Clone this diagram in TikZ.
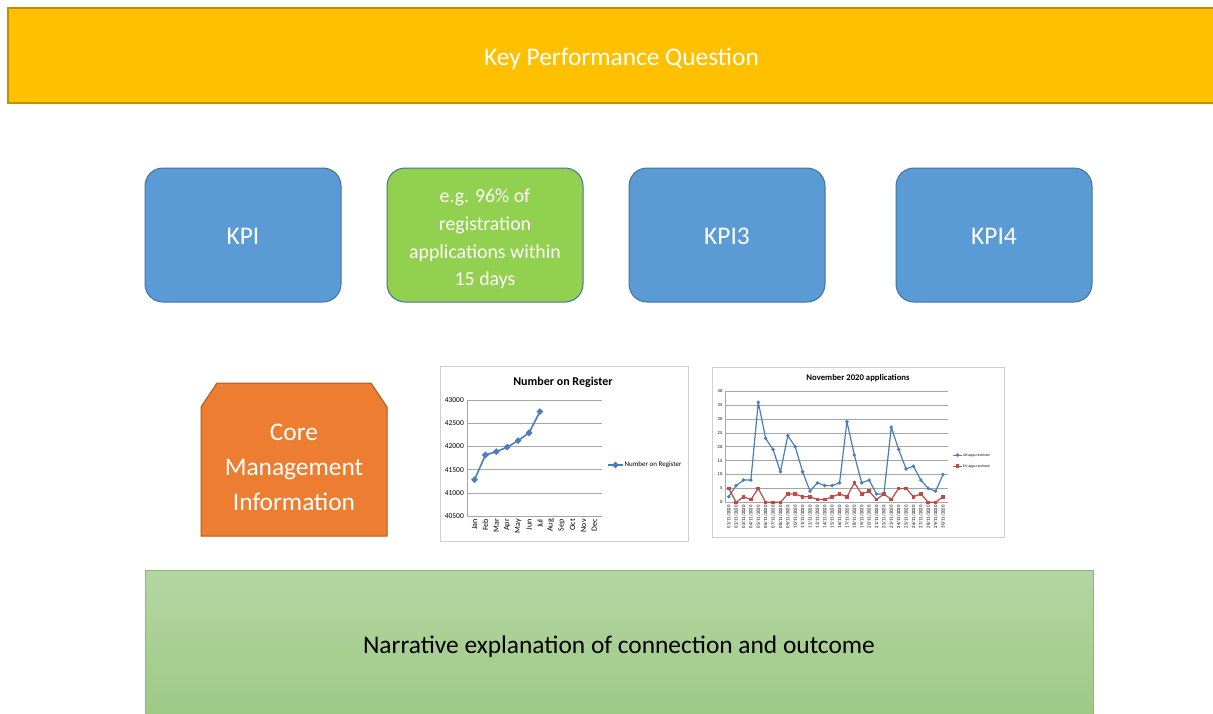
\documentclass[tikz,border=0pt]{standalone}
\usepackage{fontspec}
\setmainfont{Carlito}
\usetikzlibrary{shapes.geometric}
\definecolor{kpqgold}{HTML}{FFC000}
\definecolor{kpqedge}{HTML}{BF9000}
\definecolor{kpiblue}{HTML}{5B9BD5}
\definecolor{kpiedge}{HTML}{41719C}
\definecolor{kpigreen}{HTML}{92D050}
\definecolor{cmiorange}{HTML}{ED7D31}
\definecolor{cmiedge}{HTML}{AE5A21}
\definecolor{narrtop}{HTML}{B4D6A3}
\definecolor{narrbot}{HTML}{9DC985}
\definecolor{narredge}{HTML}{8CB877}
\definecolor{ukblue}{HTML}{4A7EBB}
\definecolor{eured}{HTML}{BE4B48}
\definecolor{gridgray}{HTML}{A6A6A6}
\definecolor{framegray}{HTML}{CFCFCF}
\tikzset{
	big/.style={font=\fontsize{25.4}{35}\selectfont},
	lowered/.style={text height=19.5pt, text depth=0pt},
	kpi/.style={draw=kpiedge, fill=kpiblue, line width=1pt, rounded corners=18pt, minimum width=196pt, minimum height=134pt, text=white, align=center, big},
	chart/.style={draw=framegray, fill=white, line width=0.8pt},
	gridline/.style={draw=gridgray, line width=0.5pt},
	ticklbl/.style={inner sep=0pt},
	regmark/.style={diamond, fill=ukblue, inner sep=0pt, minimum size=7pt},
	ukmark/.style={diamond, fill=ukblue, inner sep=0pt, minimum size=4pt},
	eumark/.style={rectangle, fill=eured, inner sep=0pt, minimum size=3.6pt}
}
\begin{document}
\begin{tikzpicture}[x=1pt,y=-1pt]
	\useasboundingbox (0,0) rectangle (1213,713);
	\node[draw=kpqedge, fill=kpqgold, line width=1.2pt, minimum width=1227pt, minimum height=95pt, text=white, big, lowered] (kpq) at (621.5,55.5) {Key Performance Question};
	\node[kpi, lowered] (kpi1) at (243,235) {KPI};
	\node[kpi, fill=kpigreen] (kpi2) at (485,235) {};
	\node[text=white, align=center, font=\fontsize{19.8}{27.7}\selectfont] (kpi2txt) at (485,239) {e.g. 96\% of\\registration\\applications within\\15 days};
	\node[kpi, lowered] (kpi3) at (727,235) {KPI3};
	\node[kpi, lowered] (kpi4) at (994,235) {KPI4};
	\draw[draw=cmiedge, fill=cmiorange, line width=1pt] (201,536) -- (201,407) -- (217,383) -- (371,383) -- (387,407) -- (387,536) -- cycle;
	\node[text=white, align=center, big] (cmi) at (294,467.5) {Core\\Management\\Information};
	\node[chart, minimum width=248pt, minimum height=175pt] (reg) at (564,453.5) {};
	\node[font=\bfseries\fontsize{12}{14}\selectfont] (regtitle) at (563,382) {Number on Register};
	\foreach \i in {0,...,5} {
		\draw[gridline] (467,{516-23.2*\i}) -- (602,{516-23.2*\i});
		\node[ticklbl, anchor=east, font=\fontsize{7.5}{9}\selectfont] (ry\i) at (464,{516-23.2*\i}) {\the\numexpr40500+500*\i\relax};
	}
	\draw[gridline] (467,400) -- (467,516);
	\foreach \m [count=\i from 0] in {Jan,Feb,Mar,Apr,May,Jun,Jul,Aug,Sep,Oct,Nov,Dec}
		\node[ticklbl, anchor=east, rotate=90, font=\fontsize{8}{9}\selectfont] (rm\i) at ({474.5+10.9*\i},519) {\m};
	\foreach \x/\y [count=\i] in {474.5/479.8, 485.4/455.0, 496.3/451.7, 507.2/447.1, 518.1/440.6, 529.0/432.9, 539.9/411.6}
		\coordinate (rp\i) at (\x,\y);
	\draw[ukblue, line width=1.6pt, line join=round] (rp1) -- (rp2) -- (rp3) -- (rp4) -- (rp5) -- (rp6) -- (rp7);
	\foreach \i in {1,...,7}
		\node[regmark] (rpm\i) at (rp\i) {};
	\coordinate (rl1) at (608,465);
	\coordinate (rl2) at (623,465);
	\draw[ukblue, line width=1.6pt] (rl1) -- (rl2);
	\node[regmark] (rlm) at (615.5,465) {};
	\node[ticklbl, anchor=west, font=\fontsize{7}{8}\selectfont] (rlt) at (624.5,465) {Number on Register};
	\node[chart, minimum width=292pt, minimum height=170pt] (nov) at (858,452) {};
	\node[font=\bfseries\fontsize{8.7}{10}\selectfont] (novtitle) at (858,378) {November 2020 applications};
	\foreach \k in {0,...,8} {
		\draw[gridline] (725,{502.3-13.9*\k}) -- (948,{502.3-13.9*\k});
		\node[ticklbl, anchor=east, font=\fontsize{4.5}{5}\selectfont] (ny\k) at (722.5,{502.3-13.9*\k}) {\the\numexpr5*\k\relax};
	}
	\draw[gridline] (725,391) -- (725,502.3);
	\foreach \i in {0,...,29}
		\node[ticklbl, anchor=east, rotate=90, font=\fontsize{4.8}{5}\selectfont] (nd\i) at ({728.7+7.39*\i},505) {\ifnum\i<9 0\fi\the\numexpr\i+1\relax/11/2020};
	\foreach \v [count=\i from 0] in {2,6,8,8,36,23,19,11,24,20,11,4,7,6,6,7,29,17,7,8,3,3,27,19,12,13,8,5,4,10}
		\coordinate (u\i) at ({728.7+7.39*\i},{502.3-2.78*\v});
	\foreach \v [count=\i from 0] in {5,0,2,1,5,0,0,0,3,3,2,2,1,1,2,3,2,7,3,4,1,3,1,5,5,2,3,0,0,2}
		\coordinate (e\i) at ({728.7+7.39*\i},{502.3-2.78*\v});
	\draw[ukblue, line width=1.2pt, line join=round] (u0) \foreach \i in {1,...,29} {-- (u\i)};
	\draw[eured, line width=1.2pt, line join=round] (e0) \foreach \i in {1,...,29} {-- (e\i)};
	\foreach \i in {0,...,29} {
		\node[ukmark] (um\i) at (u\i) {};
		\node[eumark] (em\i) at (e\i) {};
	}
	\coordinate (ul1) at (953,455);
	\coordinate (ul2) at (962,455);
	\coordinate (el1) at (953,466);
	\coordinate (el2) at (962,466);
	\draw[ukblue, line width=1pt] (ul1) -- (ul2);
	\draw[eured, line width=1pt] (el1) -- (el2);
	\node[ukmark] (ulm) at (957.5,455) {};
	\node[eumark] (elm) at (957.5,466) {};
	\node[ticklbl, anchor=west, font=\fontsize{3.8}{4}\selectfont] (ult) at (963,455) {UK apps received};
	\node[ticklbl, anchor=west, font=\fontsize{3.8}{4}\selectfont] (elt) at (963,466) {EU apps received};
	\node[draw=narredge, top color=narrtop, bottom color=narrbot, line width=1pt, minimum width=948pt, minimum height=148pt, big, lowered] (narr) at (619,644) {Narrative explanation of connection and outcome};
\end{tikzpicture}
\end{document}
